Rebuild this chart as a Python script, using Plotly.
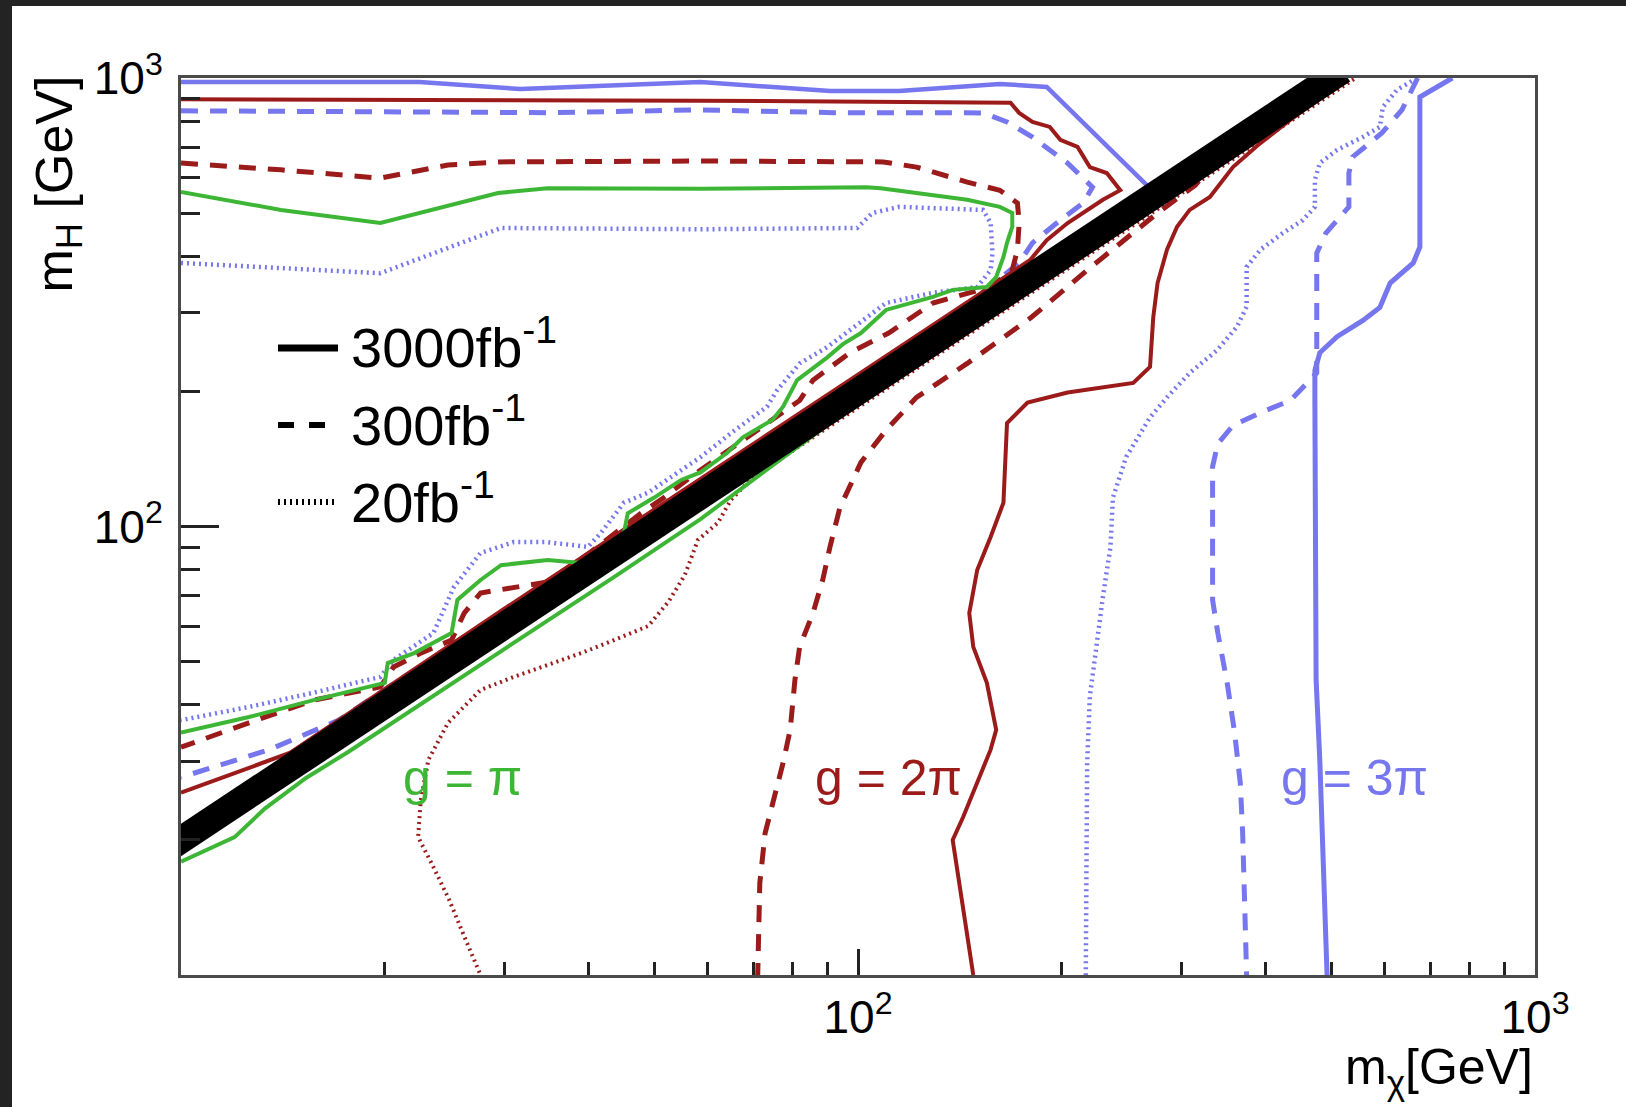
import plotly.graph_objects as go

# ---------------------------------------------------------------
# Exclusion contours in the (m_chi, m_H) plane, values in GeV
# ---------------------------------------------------------------

# kinematic threshold m_H = 2 m_chi
kin_mchi = [9.0, 520.0]
kin_mH = [18.0, 1040.0]

# g = pi, 3000 fb^-1 (upper region, closed back to the left edge)
g1_3000_up_mchi = [10, 14.05, 19.7, 29.4, 34.8, 58.6, 103, 108, 145, 162, 169, 169, 166, 164, 160, 155,
                   138, 129, 110, 101, 95, 90, 81.3, 77.5, 74.8, 67.6, 64.1, 58.5, 54.8, 50, 45.7, 45.1,
                   39, 34.8, 29.7, 27.7, 25.6, 25.1, 22.1, 20.2, 20, 15.7, 12.6, 10]
g1_3000_up_mH = [557, 508, 475, 554, 568, 566, 571, 568, 535, 516, 500, 466, 429, 399, 360, 342,
                 337, 325, 304, 270, 255, 238, 212, 185, 173, 158, 146, 132, 127, 116, 107, 96.7,
                 82.9, 84.2, 82, 76, 68.6, 57.9, 52.2, 49.6, 44.8, 41, 37.6, 34.7]
# g = pi, 3000 fb^-1 (below the threshold)
g1_3000_low_mchi = [10, 11.2, 12, 13.3, 15.3, 17.7, 22.1, 26.8, 31, 43.6, 58.6, 73.4, 90, 120]
g1_3000_low_mH = [17.9, 19.3, 20.3, 23.5, 27.5, 31.5, 39.2, 47.5, 55, 77.1, 104, 134, 168, 235]

# g = 2pi, 3000 fb^-1
g2_3000_up_mchi = [10, 29.6, 58.5, 168, 173, 181, 192, 199, 211, 220, 233, 244, 230, 204, 190, 179.6,
                   150, 100, 60, 30, 14.5, 10]
g2_3000_up_mH = [897, 893, 890, 881, 836, 798, 778, 728, 702, 633, 614, 562, 535, 475, 435, 393,
                 327, 218, 131, 65.5, 31.3, 25.5]
g2_3000_right_mchi = [500, 466, 435, 393, 358, 339, 331, 309, 296, 286, 277, 273, 270, 255, 204, 178,
                      166, 165, 164, 157, 150, 146, 148, 155, 160, 157, 143, 138, 148]
g2_3000_right_mH = [960, 871, 806, 716, 633, 571, 543, 508, 466, 414, 349, 293, 227, 209, 199, 189,
                    170, 139, 113, 94.8, 80, 64.1, 53.9, 44.8, 35.2, 31.8, 22.5, 20, 10]

# g = 2pi, 300 fb^-1
g2_300_up_mchi = [10, 14.05, 19.7, 24.8, 29.4, 58.6, 109, 122, 145, 162, 172, 173, 172, 169, 157, 129,
                  111, 97.3, 85.8, 82, 56.6, 51.7, 47.8, 40, 34.8, 31, 27.7, 26.2, 25.1, 22.6, 20.6,
                  19.7, 15.7, 12.6, 10]
g2_300_up_mH = [646, 624, 598, 640, 650, 653, 650, 633, 586, 562, 526, 475, 414, 373, 342, 315,
                270, 244, 212, 191, 129, 116, 107, 87, 75.2, 73.3, 71.1, 64.1, 55.8, 52.2, 48.6,
                43.9, 41, 36.5, 32.2]
g2_300_right_mchi = [340, 315, 277, 220, 180, 145, 122, 110, 101, 94, 90.9, 88.7, 85.8, 82, 80.7, 79.4,
                     77.5, 72.9, 71.6, 71.1]
g2_300_right_mH = [660, 577, 500, 377, 292, 231, 194, 164, 139, 110, 90, 76, 64.1, 53.9, 45.5, 35.2,
                   29.7, 20.7, 16, 10]

# g = 2pi, 20 fb^-1
g2_20_mchi = [540, 300, 150, 70, 64.9, 62.1, 58, 55.5, 52.5, 49, 43.6, 39, 31, 27.7, 24.8, 23.2,
              22.6, 22.4, 23.6, 24.9, 26.2, 27.7]
g2_20_mH = [994, 552, 276, 129, 114.6, 102, 93.3, 78, 68, 60, 55.8, 52.2, 46.2, 43.2, 36.5, 30.2,
            24.5, 20.3, 17.4, 14.7, 12.2, 10]

# g = 3pi, 3000 fb^-1
g3_3000_up_mchi = [10, 22.5, 31.7, 44.5, 58.5, 91, 115, 162, 190, 267, 285]
g3_3000_up_mH = [980, 980, 945, 965, 980, 935, 935, 970, 955, 577, 570]
g3_3000_right_mchi = [755, 676, 676, 661, 611, 590, 557, 510, 481, 473, 473, 475, 481, 486, 493]
g3_3000_right_mH = [1000, 907, 420, 387, 349, 308, 288, 265, 244, 223, 191, 45.5, 30.1, 20, 10]

# g = 3pi, 300 fb^-1
g3_300_up_mchi = [10, 27.7, 34.8, 58.5, 92, 115, 153, 166, 181, 204, 222, 215, 199, 181, 173,
                  150, 100, 60, 30, 17.1, 13.5, 10]
g3_300_up_mH = [845, 840, 837, 849, 837, 837, 836, 798, 738, 646, 571, 526, 482, 429, 387,
                325, 217, 130, 65, 37.0, 31.8, 27.6]
g3_300_right_mchi = [671, 636, 594, 538, 531, 531, 491, 476, 476, 435, 392, 358, 340, 334, 334, 340,
                     351, 360, 367, 370, 375]
g3_300_right_mH = [1000, 849, 754, 667, 614, 516, 451, 407, 220, 191, 179, 168, 153, 136, 68.6, 57.9,
                   44.8, 34.7, 26.8, 20.7, 10]

# g = 3pi, 20 fb^-1
g3_20_up_mchi = [10, 19.7, 29.7, 58.6, 99.7, 105, 115, 153, 157, 158, 157, 150, 129, 110, 97.3, 90,
                 82, 75.9, 73.4, 65.8, 58.6, 49, 45.1, 41.7, 39.9, 34.8, 31, 27.7, 25.3, 24.2, 23.6,
                 20.6, 19.7, 15.7, 12.6, 10]
g3_20_up_mH = [387, 367, 463, 460, 463, 500, 516, 508, 475, 407, 373, 342, 332, 315, 274, 251,
               231, 201, 185, 164, 143, 119, 113, 96.7, 90, 92.3, 92.3, 87.3, 73.3, 62.8, 57.9,
               50.4, 46.2, 42.6, 39.6, 37.0]
g3_20_right_mchi = [669, 625, 596, 590, 557, 510, 481, 473, 473, 454, 424, 393, 375, 375, 363, 339,
                    309, 286, 270, 249, 238, 236, 230, 225, 220, 218, 217]
g3_20_right_mH = [1000, 940, 861, 778, 739, 691, 646, 593, 516, 482, 451, 414, 379, 309, 279, 247,
                  220, 194, 175, 143, 116, 90, 69.7, 53.9, 41.7, 29.7, 10]

# axis ticks
major_ticks = [100, 1000]
major_text = ["10<sup>2</sup>", "10<sup>3</sup>"]
minor_ticks = [20, 30, 40, 50, 60, 70, 80, 90, 200, 300, 400, 500, 600, 700, 800, 900]

GREEN = "#3db635"
RED = "#9b1b1b"
BLUE = "#7676ee"
SOLID = "solid"
DASHED = "17px,12px"
DOTTED = "2px,4px"
FONT = "Liberation Sans, Arial, Helvetica, sans-serif"

curves = [
    (g3_20_up_mchi, g3_20_up_mH, BLUE, DOTTED, 4.5),
    (g3_20_right_mchi, g3_20_right_mH, BLUE, DOTTED, 4.5),
    (g2_20_mchi, g2_20_mH, RED, DOTTED, 4),
    (g3_300_up_mchi, g3_300_up_mH, BLUE, DASHED, 5),
    (g3_300_right_mchi, g3_300_right_mH, BLUE, DASHED, 5),
    (g2_300_up_mchi, g2_300_up_mH, RED, DASHED, 5),
    (g2_300_right_mchi, g2_300_right_mH, RED, DASHED, 5),
    (g3_3000_up_mchi, g3_3000_up_mH, BLUE, SOLID, 4.5),
    (g3_3000_right_mchi, g3_3000_right_mH, BLUE, SOLID, 5),
    (g2_3000_up_mchi, g2_3000_up_mH, RED, SOLID, 4),
    (g2_3000_right_mchi, g2_3000_right_mH, RED, SOLID, 4),
    (g1_3000_up_mchi, g1_3000_up_mH, GREEN, SOLID, 4),
    (g1_3000_low_mchi, g1_3000_low_mH, GREEN, SOLID, 4),
]

fig = go.Figure()
for xs, ys, col, dash, w in curves:
    fig.add_trace(go.Scatter(x=xs, y=ys, mode="lines",
                             line=dict(color=col, dash=dash, width=w),
                             showlegend=False, hoverinfo="skip"))

# thick black threshold band on top of the contours
fig.add_trace(go.Scatter(x=kin_mchi, y=kin_mH, mode="lines",
                         line=dict(color="black", width=27),
                         showlegend=False, hoverinfo="skip"))

W, H = 1626, 1107
L, R, T, B = 181, 91, 78, 132
pw, ph = W - L - R, H - T - B


def px(xp):
    return (xp - L) / pw


def py(yp):
    return (H - B - yp) / ph


shapes = [
    # white page over the dark surround
    dict(type="rect", xref="paper", yref="paper", x0=px(12), x1=px(W + 10), y0=py(H + 10), y1=py(6),
         fillcolor="white", line=dict(width=0), layer="below"),
]

# luminosity key
key = [("solid", 7, 348, "3000fb<sup>-1</sup>"),
       ("16px,15px", 6, 425, "300fb<sup>-1</sup>"),
       ("2px,4px", 6, 502, "20fb<sup>-1</sup>")]
annotations = []
for dash, w, yk, label in key:
    shapes.append(dict(type="line", xref="paper", yref="paper", x0=px(278), x1=px(338),
                       y0=py(yk), y1=py(yk), line=dict(color="black", width=w, dash=dash)))
    annotations.append(dict(xref="paper", yref="paper", x=px(349), y=py(yk - 4), xanchor="left",
                            yanchor="middle", text=label, showarrow=False,
                            font=dict(family=FONT, size=56, color="black")))

for xc, label, col in [(462, "g = π", GREEN), (888, "g = 2π", RED), (1354, "g = 3π", BLUE)]:
    annotations.append(dict(xref="paper", yref="paper", x=px(xc), y=py(778), xanchor="center",
                            yanchor="middle", text=label, showarrow=False,
                            font=dict(family=FONT, size=50, color=col)))

# axis titles
annotations.append(dict(xref="paper", yref="paper", x=px(58), y=py(74), xanchor="center",
                        yanchor="top", textangle=-90, text="m<sub>H</sub> [GeV]", showarrow=False,
                        font=dict(family=FONT, size=52, color="black")))
annotations.append(dict(xref="paper", yref="paper", x=px(1535), y=py(1104), xanchor="right",
                        yanchor="bottom", text="m<sub>χ</sub>[GeV]", showarrow=False,
                        font=dict(family=FONT, size=50, color="black")))

axis_common = dict(
    type="log", range=[1, 3], showgrid=False, zeroline=False,
    showline=True, mirror=True, linecolor="#4a4a4a", linewidth=3,
    tickmode="array", tickvals=major_ticks, ticktext=major_text,
    ticks="inside", tickcolor="#222", tickwidth=2.5,
    tickfont=dict(family=FONT, size=46, color="black"),
)

fig.update_layout(
    width=W, height=H,
    margin=dict(l=L, r=R, t=T, b=B, pad=0),
    paper_bgcolor="#232323",
    plot_bgcolor="white",
    showlegend=False,
    shapes=shapes,
    annotations=annotations,
    xaxis=dict(**axis_common, ticklen=26, ticklabelstandoff=0,
               minor=dict(tickmode="array", tickvals=minor_ticks, ticks="inside",
                          ticklen=13, tickwidth=2.5, tickcolor="#222", showgrid=False)),
    yaxis=dict(**axis_common, ticklen=38, ticklabelstandoff=6,
               minor=dict(tickmode="array", tickvals=minor_ticks, ticks="inside",
                          ticklen=19, tickwidth=2.5, tickcolor="#222", showgrid=False)),
)

fig.write_html("out.html")
